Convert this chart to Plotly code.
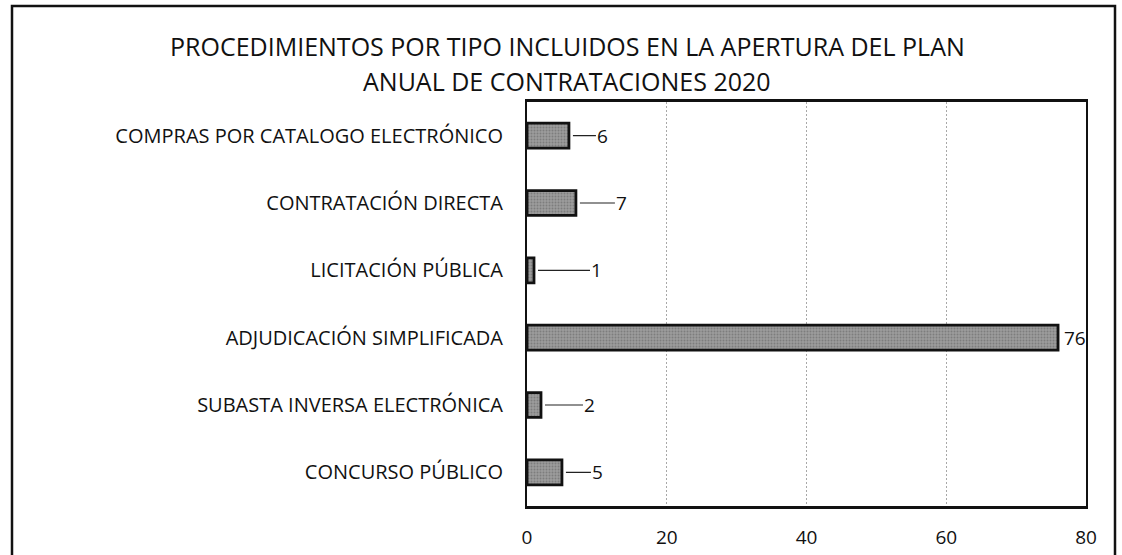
import plotly.graph_objects as go

categories = [
    "COMPRAS POR CATALOGO ELECTRÓNICO",
    "CONTRATACIÓN DIRECTA",
    "LICITACIÓN PÚBLICA",
    "ADJUDICACIÓN SIMPLIFICADA",
    "SUBASTA INVERSA ELECTRÓNICA",
    "CONCURSO PÚBLICO",
]
values = [6, 7, 1, 76, 2, 5]
label_offsets = [34, 46, 63, 0, 49, 36]  # pixel offset of the value label (leader line length)
tick_vals = [0, 20, 40, 60, 80]
title_lines = [
    "PROCEDIMIENTOS POR TIPO INCLUIDOS EN LA APERTURA DEL PLAN",
    "ANUAL DE CONTRATACIONES 2020",
]

FONT = "Open Sans"
W, H = 1122, 555
L, R, T, B = 527, 36, 102, 49
pw, ph = W - L - R, H - T - B

fig = go.Figure()
fig.add_trace(go.Bar(
    x=values, y=categories, orientation="h",
    marker=dict(color="#9c9c9c", line=dict(color="#111111", width=2.8),
                pattern=dict(shape=".", fgcolor="#5e5e5e", size=3, solidity=0.35)),
    width=0.37, hoverinfo="skip",
))

for c, v, off in zip(categories, values, label_offsets):
    if off == 0:
        fig.add_annotation(x=v, y=c, text=str(v), showarrow=False, xanchor="left",
                           xshift=4, font=dict(family=FONT, size=19, color="#111"))
    else:
        fig.add_annotation(x=v, y=c, text=str(v), showarrow=True, arrowhead=0,
                           arrowwidth=1.2, arrowcolor="#222", ax=off, ay=0, standoff=4,
                           font=dict(family=FONT, size=19, color="#111"))

def px_x(px):
    return (px - L) / pw

def px_y(py):
    return (H - B - py) / ph

for line, ypx in zip(title_lines, [46, 81]):
    fig.add_annotation(xref="paper", yref="paper", x=px_x(567), y=px_y(ypx), text=line,
                       showarrow=False, xanchor="center", yanchor="middle",
                       font=dict(family=FONT, size=25, color="#111"))

# outer chart border
fig.add_shape(type="rect", xref="paper", yref="paper",
              x0=px_x(12), x1=px_x(1115), y0=px_y(560), y1=px_y(6),
              line=dict(color="#111", width=2.5), layer="below")

fig.update_layout(
    width=W, height=H, autosize=False,
    margin=dict(l=L, r=R, t=T, b=B, pad=0, autoexpand=False),
    paper_bgcolor="white", plot_bgcolor="white",
    showlegend=False,
    font=dict(family=FONT, size=19, color="#111"),
    xaxis=dict(range=[0, 80], tickvals=tick_vals, showgrid=True,
               gridcolor="#a8a8a8", griddash="2px,2px", gridwidth=1,
               showline=True, linecolor="#111", linewidth=2.5, mirror=True,
               zeroline=False, ticks="", ticklen=0, tickfont=dict(size=19),
               ticklabelstandoff=12, automargin=False, fixedrange=True),
    yaxis=dict(categoryorder="array", categoryarray=categories, autorange="reversed",
               showgrid=False, showline=True, linecolor="#111", linewidth=2, mirror=True,
               ticks="", ticklabelstandoff=18, tickfont=dict(size=20),
               automargin=False, fixedrange=True),
)
fig.write_html("out.html", config={"displayModeBar": False, "responsive": False},
               post_script="document.body.style.margin='0';")
